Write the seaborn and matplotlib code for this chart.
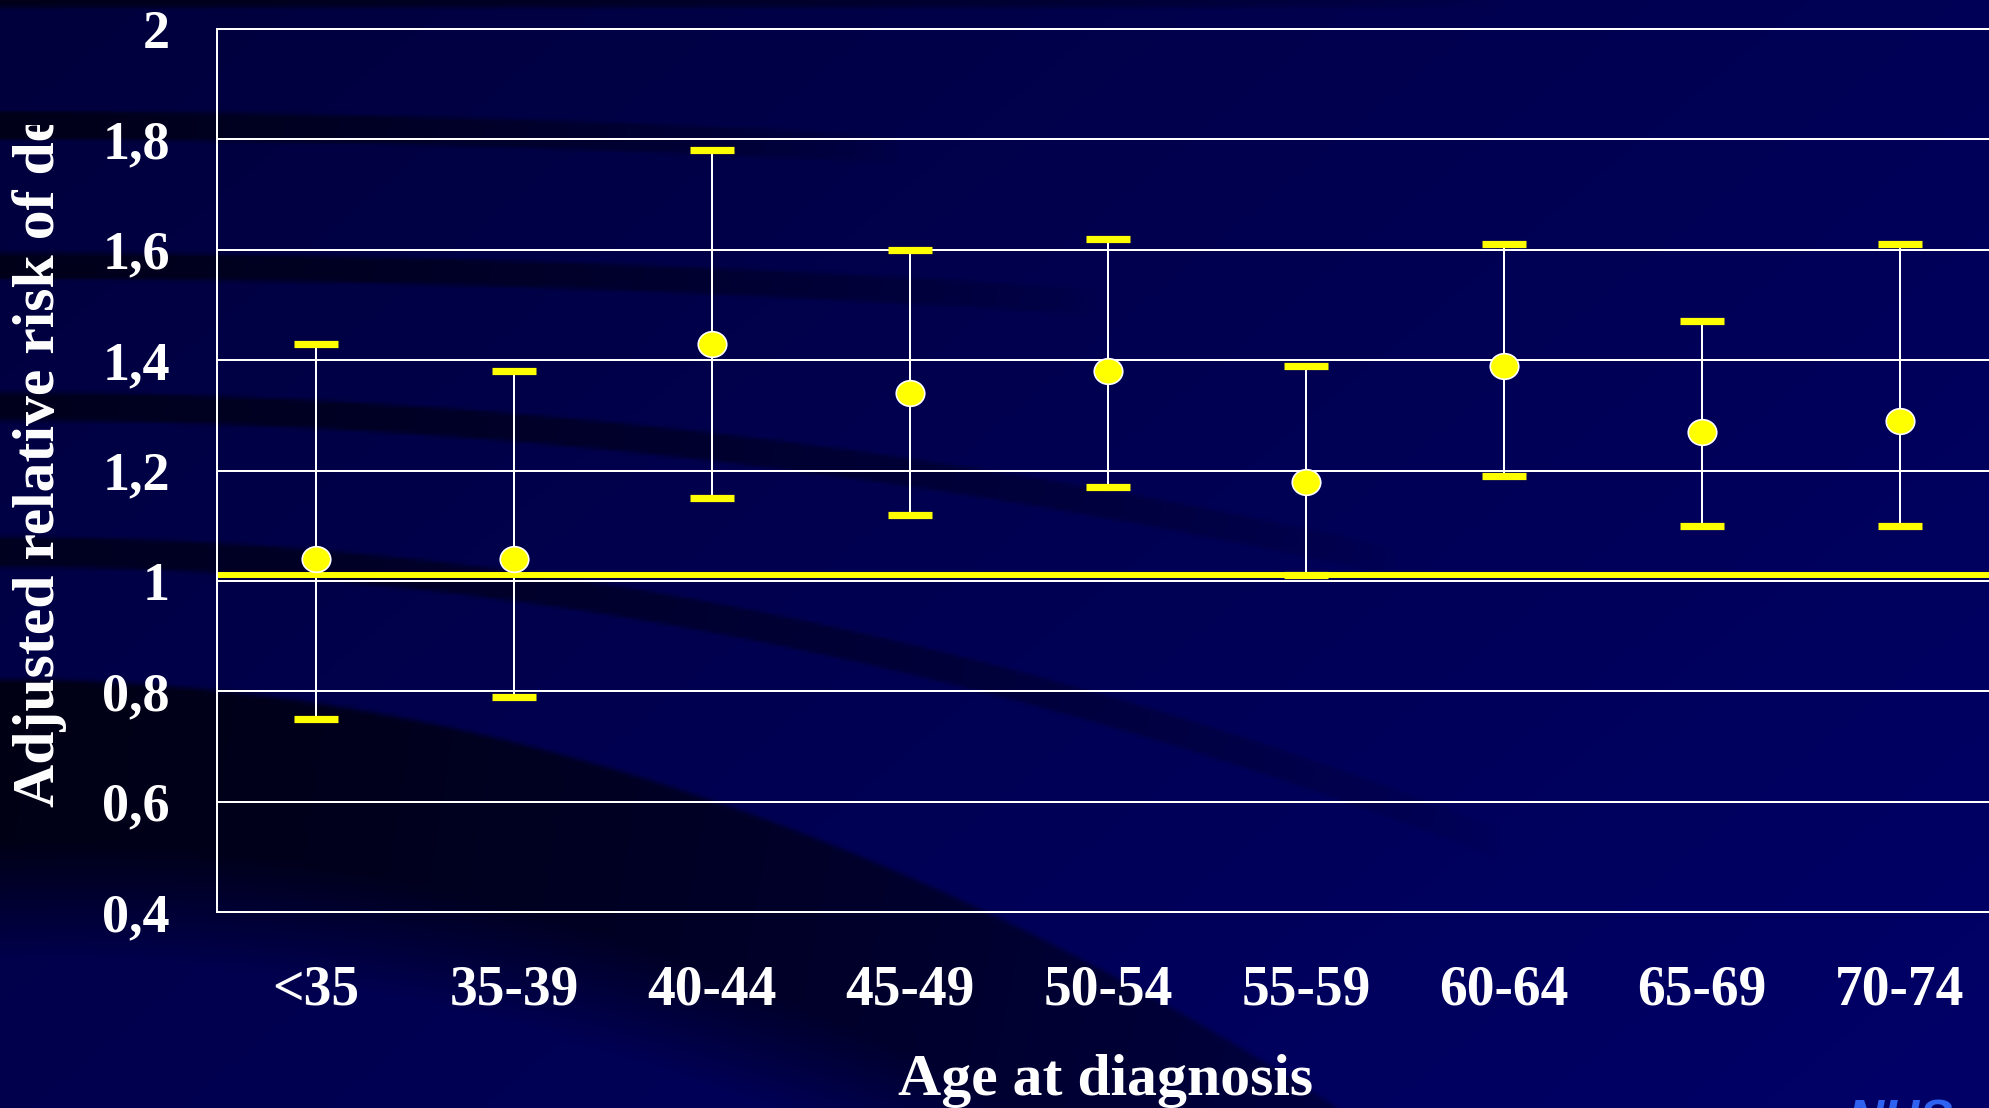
import numpy as np
import pandas as pd
import matplotlib
matplotlib.use("Agg")
import matplotlib.pyplot as plt
import seaborn as sns
from matplotlib.path import Path
from matplotlib.ticker import FixedLocator, NullFormatter
from matplotlib.transforms import Bbox, TransformedBbox

# ---- data -------------------------------------------------------------
age_groups = ["<35", "35-39", "40-44", "45-49", "50-54", "55-59", "60-64", "65-69", "70-74"]
relative_risk = [1.04, 1.04, 1.43, 1.34, 1.38, 1.18, 1.39, 1.27, 1.29]
ci_lower = [0.75, 0.79, 1.15, 1.12, 1.17, 1.01, 1.19, 1.10, 1.10]
ci_upper = [1.43, 1.38, 1.78, 1.60, 1.62, 1.39, 1.61, 1.47, 1.61]
reference_level = 1.01
y_ticks = [0.4, 0.6, 0.8, 1.0, 1.2, 1.4, 1.6, 1.8, 2.0]
y_tick_labels = ["0,4", "0,6", "0,8", "1", "1,2", "1,4", "1,6", "1,8", "2"]

df = pd.DataFrame({
    "age": age_groups,
    "pos": np.arange(len(age_groups)),
    "rr": relative_risk,
    "lo": ci_lower,
    "hi": ci_upper,
})

# ---- style ------------------------------------------------------------
sns.set_style("white")
plt.rcParams["font.family"] = ["Liberation Serif", "DejaVu Serif"]
plt.rcParams["font.weight"] = "bold"

YELLOW = "#FFFF00"
WHITE = "#FFFFFF"

W, H = 1989, 1108
fig = plt.figure(figsize=(W / 100, H / 100), dpi=100)
fig.patch.set_facecolor("#000050")

# ---- slide background: navy with dark sweeping arcs --------------------
gx = np.linspace(0, W, 498)
gy = np.linspace(0, H, 278)
X, Y = np.meshgrid(gx, gy)
base = 60 + 44 * np.clip(0.6 * X / W + 0.4 * Y / H, 0, 1)


def arc(top, bottom, xend, strength, soft_top=4.0, soft_bottom=4.0):
    inside = np.clip((Y - top) / soft_top + 0.5, 0, 1) * np.clip((bottom - Y) / soft_bottom + 0.5, 0, 1)
    fade = np.clip(1 - X / xend, 0, 1) ** 0.6
    return strength * inside * fade


shade = np.zeros_like(X)
shade = np.maximum(shade, arc(-10, 5, 1500, 0.8))
c1 = 124 + 3e-5 * X ** 2
shade = np.maximum(shade, arc(c1 - 14, c1 + 14, 900, 0.8))
c2 = 265 + 3e-5 * X ** 2
shade = np.maximum(shade, arc(c2 - 13, c2 + 13, 1100, 0.8))
c3 = 406 + 8e-5 * X ** 2
shade = np.maximum(shade, arc(c3 - 14, c3 + 14, 1400, 0.75))
c4 = 551 + 1.3e-4 * X ** 2
shade = np.maximum(shade, arc(c4 - 14, c4 + 16, 1500, 0.7))
shade = np.maximum(shade, arc(680 + 2.4e-4 * X ** 2, 900 + 2.6e-4 * X ** 2, 1800, 0.9,
                              soft_top=6, soft_bottom=120))

blue = base * (1 - shade) + 16 * shade
rgb = np.dstack([np.zeros_like(blue), np.zeros_like(blue), blue]) / 255.0

bg = fig.add_axes([0, 0, 1, 1], zorder=-10)
bg.imshow(rgb, extent=[0, W, H, 0], aspect="auto", interpolation="bilinear")
bg.set_xlim(0, W)
bg.set_ylim(H, 0)
bg.axis("off")

# ---- chart axes -------------------------------------------------------
ax = fig.add_axes([217 / W, 1 - 912 / H, 1782 / W, (912 - 29) / H])
ax.set_facecolor("none")

# reference line of no excess risk
ax.axhline(reference_level, color=YELLOW, lw=4.3, zorder=2.5)

# confidence intervals: white stems, yellow caps
eb = ax.errorbar(df["pos"], df["rr"],
                 yerr=[df["rr"] - df["lo"], df["hi"] - df["rr"]],
                 fmt="none", ecolor=WHITE, elinewidth=1.44,
                 capsize=15.8, capthick=5.2, zorder=2)
for cap in eb.lines[1]:
    cap.set_color(YELLOW)
    cap.set_markeredgecolor(YELLOW)
    cap.set_zorder(3)

# point estimates as slightly wide ellipses
circ = Path.unit_circle()
ellipse = Path(circ.vertices * np.array([1.0, 0.9]), circ.codes)
sns.scatterplot(data=df, x="pos", y="rr", marker=ellipse, s=420,
                color=YELLOW, edgecolor=WHITE, linewidth=1.2,
                zorder=4, legend=False, ax=ax)

# axes limits, ticks and grid
ax.set_xlim(-0.5, len(age_groups) - 0.5)
ax.set_ylim(y_ticks[0], y_ticks[-1])
ax.set_xlabel("")
ax.set_ylabel("")

ax.xaxis.set_major_locator(FixedLocator(np.arange(-0.5, len(age_groups))))
ax.xaxis.set_major_formatter(NullFormatter())
ax.xaxis.set_minor_locator(FixedLocator(df["pos"]))
ax.set_xticklabels(age_groups, minor=True)
ax.tick_params(axis="x", which="major", direction="inout", length=23,
               width=1.44, color=WHITE)
ax.tick_params(axis="x", which="minor", length=0, pad=38,
               labelsize=40, labelcolor=WHITE)

ax.set_yticks(y_ticks)
ax.set_yticklabels(y_tick_labels)
ax.tick_params(axis="y", direction="out", length=13, width=1.44,
               color=WHITE, pad=21, labelsize=39, labelcolor=WHITE)

ax.grid(axis="y", color=WHITE, lw=1.44)
ax.grid(axis="x", visible=False)
ax.set_axisbelow(True)
for gl in ax.yaxis.get_gridlines():
    gl.set_clip_on(False)

for side in ("top", "right"):
    ax.spines[side].set_visible(False)
for side in ("left", "bottom"):
    ax.spines[side].set_color(WHITE)
    ax.spines[side].set_linewidth(1.44)

# axis titles
fig.text(1106 / W, 1 - 1095 / H, "Age at diagnosis", ha="center", va="baseline",
         fontsize=43, fontweight="bold", color=WHITE)

ylab = fig.text(40 / W, 1 - 807 / H, "Adjusted relative risk of death", rotation=90,
                ha="center", va="bottom", fontsize=43, fontweight="bold",
                color=WHITE, clip_on=True)
ylab.set_clip_box(TransformedBbox(Bbox([[0, 0], [1, 1 - 125 / H]]), fig.transFigure))

# logo at the slide's lower right corner
fig.text(1847 / W, 1 - 1099 / H, "NHS", ha="left", va="top", fontsize=36,
         fontweight="bold", style="italic", color="#2F62F0",
         family=["Liberation Sans", "DejaVu Sans"])

fig.savefig("out.png", dpi=100, facecolor=fig.get_facecolor())
